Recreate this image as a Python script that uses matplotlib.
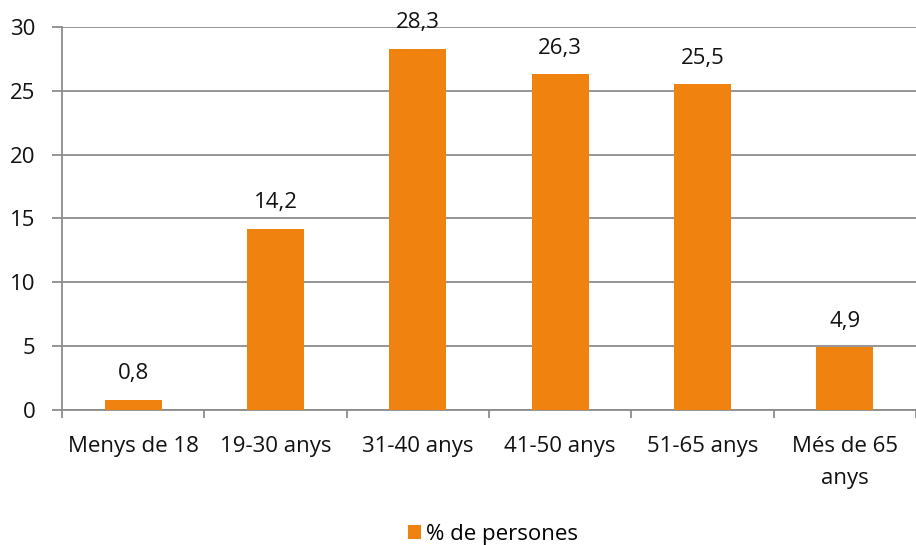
import numpy as np
import matplotlib.pyplot as plt

plt.rcParams['font.family'] = ['Open Sans', 'DejaVu Sans']

categories = ["Menys de 18", "19-30 anys", "31-40 anys", "41-50 anys", "51-65 anys", "Més de 65\nanys"]
values = [0.8, 14.2, 28.3, 26.3, 25.5, 4.9]
labels = ["0,8", "14,2", "28,3", "26,3", "25,5", "4,9"]

orange = "#F0820F"
grey = "#8C8C8C"
fs = 16

fig = plt.figure(figsize=(9.16, 5.45), dpi=100)
ax = fig.add_axes([0.0677, 0.2477, 0.9323, 0.7028])

x = np.arange(len(categories))
bars = ax.bar(x, values, width=0.4, color=orange, zorder=3, label="% de persones")

for b, lab in zip(bars, labels):
    ax.text(b.get_x() + b.get_width() / 2, b.get_height() + 1.2, lab,
            ha="center", va="bottom", fontsize=fs, color="#111111")

ax.set_xlim(-0.5, len(categories) - 0.5)
ax.set_ylim(0, 30)
ax.set_yticks(range(0, 31, 5))
ax.yaxis.grid(True, color=grey, linewidth=1.3, zorder=0)

ax.set_xticks(x)
ax.set_xticklabels(categories, fontsize=fs, color="#111111", linespacing=1.65)
ax.set_xticks(np.arange(-0.5, len(categories), 1), minor=True)
ax.tick_params(axis="x", which="major", length=0, pad=19)
ax.tick_params(axis="x", which="minor", length=6, color=grey, width=1.3)
ax.tick_params(axis="y", length=7, color=grey, width=1.3, labelsize=fs, labelcolor="#111111", pad=12)

for s in ["top", "right"]:
    ax.spines[s].set_visible(False)
for s in ["left", "bottom"]:
    ax.spines[s].set_color(grey)
    ax.spines[s].set_linewidth(1.3)

fig.legend(handles=[bars], labels=["% de persones"], loc="center", bbox_to_anchor=(0.538, 0.02),
           frameon=False, fontsize=fs, handlelength=0.6, handleheight=0.6, handletextpad=0.2)

fig.savefig("out.png", dpi=100)
